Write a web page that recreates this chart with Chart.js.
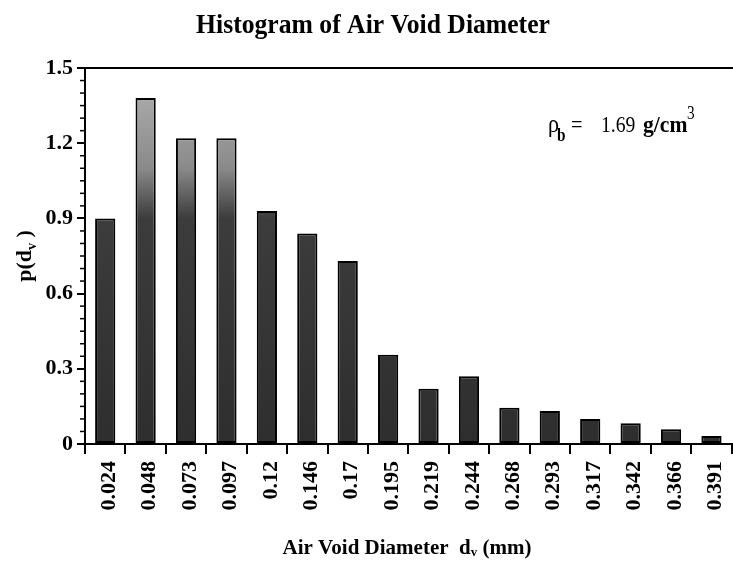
<!DOCTYPE html>
<html>
<head>
<meta charset="utf-8">
<script src="https://cdn.jsdelivr.net/npm/chart.js@4/dist/chart.umd.min.js"></script>
<style>
  html, body { margin: 0; padding: 0; background: #fff; overflow: hidden; }
</style>
</head>
<body>
<canvas id="chart" width="745" height="565"></canvas>
<script>
// air void diameter classes (mm) and the histogram values p(dv)
const diameters = ['0.024', '0.048', '0.073', '0.097', '0.12', '0.146', '0.17', '0.195',
  '0.219', '0.244', '0.268', '0.293', '0.317', '0.342', '0.366', '0.391'];
const pValues = [0.90, 1.38, 1.22, 1.22, 0.93, 0.84, 0.73, 0.356,
  0.22, 0.27, 0.145, 0.132, 0.10, 0.083, 0.059, 0.032];
const yTicks = [0, 0.3, 0.6, 0.9, 1.2, 1.5];

const serif = 'Liberation Serif';

const partsWidth = (ctx, parts) => {
  let w = 0;
  parts.forEach((p) => { ctx.font = p.font; w += ctx.measureText(p.t).width; });
  return w;
}

// draws a row of text pieces one after another (for sub/superscripts),
// sx squeezes the text sideways like the narrow typeface of the original
const drawParts = (ctx, x, y, parts, sx = 1, align = 'left') => {
  const w = partsWidth(ctx, parts);
  ctx.save();
  ctx.translate(align === 'center' ? x - w * sx / 2 : x, y);
  ctx.scale(sx, 1);
  let cx = 0;
  parts.forEach((p) => {
    ctx.font = p.font;
    ctx.fillText(p.t, cx, p.dy || 0);
    cx += ctx.measureText(p.t).width;
  });
  ctx.restore();
}

const extras = {
  id: 'extras',
  afterDraw(chart) {
    const ctx = chart.ctx;
    const area = chart.chartArea;
    const y = chart.scales.y;
    ctx.save();
    ctx.strokeStyle = '#000';
    ctx.fillStyle = '#000';

    // top frame line
    ctx.lineWidth = 2;
    ctx.beginPath();
    ctx.moveTo(area.left, area.top);
    ctx.lineTo(chart.width, area.top);
    ctx.stroke();

    // minor ticks on the y axis
    ctx.lineWidth = 1.5;
    for (let i = 1; i < 30; i++) {
      if (i % 6 === 0) continue;
      const py = y.getPixelForValue(i * 0.05);
      ctx.beginPath();
      ctx.moveTo(area.left - 5, py);
      ctx.lineTo(area.left, py);
      ctx.stroke();
    }

    ctx.textBaseline = 'alphabetic';
    ctx.textAlign = 'left';

    // title
    drawParts(ctx, 373, 33, [{ t: 'Histogram of Air Void Diameter', font: 'bold 27px ' + serif }], 0.95, 'center');

    // x axis title
    drawParts(ctx, 407, 554, [
      { t: 'Air Void Diameter  d', font: 'bold 21px ' + serif },
      { t: 'v', font: 'bold 13px ' + serif, dy: 2 },
      { t: ' (mm)', font: 'bold 21px ' + serif }
    ], 1, 'center');

    // y axis title
    ctx.save();
    ctx.translate(31, 256);
    ctx.rotate(-Math.PI / 2);
    drawParts(ctx, 0, 0, [
      { t: 'p(d', font: 'bold 22px ' + serif },
      { t: 'v', font: 'bold 14px ' + serif, dy: 5 },
      { t: ' )', font: 'bold 22px ' + serif }
    ], 1, 'center');
    ctx.restore();

    // bulk density note
    drawParts(ctx, 548, 132, [{ t: 'ρ', font: '26px ' + serif }], 0.85);
    drawParts(ctx, 557, 141, [{ t: 'b', font: 'bold 18px ' + serif }], 0.85);
    drawParts(ctx, 571, 132, [{ t: '=', font: '24px ' + serif }], 0.85);
    drawParts(ctx, 601, 132, [{ t: '1.69', font: '24px ' + serif }], 0.82);
    drawParts(ctx, 643, 132, [{ t: 'g/cm', font: 'bold 24px ' + serif }], 0.9);
    drawParts(ctx, 687, 119, [{ t: '3', font: '18px ' + serif }], 0.85);
    ctx.restore();
  }
};

const barFill = (context) => {
  const chart = context.chart;
  const area = chart.chartArea;
  if (!area) return '#333';
  const y = chart.scales.y;
  const g = chart.ctx.createLinearGradient(0, area.top, 0, area.bottom);
  const stop = (v) => (y.getPixelForValue(v) - area.top) / (area.bottom - area.top);
  g.addColorStop(0, '#b4b4b4');
  g.addColorStop(stop(1.1), '#8a8a8a');
  g.addColorStop(stop(0.9), '#3c3c3c');
  g.addColorStop(1, '#2e2e2e');
  return g;
}

new Chart(document.getElementById('chart'), {
  type: 'bar',
  data: {
    labels: diameters,
    datasets: [{
      data: pValues,
      backgroundColor: barFill,
      borderColor: '#000',
      borderWidth: 2,
      borderSkipped: false,
      barPercentage: 1,
      categoryPercentage: 0.5
    }]
  },
  options: {
    responsive: false,
    animation: false,
    layout: { padding: { top: 68, left: 0, right: 4, bottom: 0 } },
    plugins: {
      legend: { display: false },
      title: { display: false },
      tooltip: { enabled: false }
    },
    scales: {
      x: {
        afterFit: (s) => { s.height = 121; },
        border: { display: true, color: '#000', width: 2 },
        grid: { display: true, offset: true, drawOnChartArea: false, drawTicks: true, tickLength: 10, color: '#000', lineWidth: 2 },
        ticks: {
          minRotation: 90,
          maxRotation: 90,
          autoSkip: false,
          padding: 7,
          labelOffset: 4,
          color: '#000',
          font: { family: serif, weight: 'bold', size: 22 }
        }
      },
      y: {
        min: 0,
        max: 1.5,
        afterFit: (s) => { s.width = 85; },
        afterBuildTicks: (s) => { s.ticks = yTicks.map((v) => ({ value: v })); },
        border: { display: true, color: '#000', width: 2 },
        grid: { display: true, drawOnChartArea: false, drawTicks: true, tickLength: 8, color: '#000', lineWidth: 2 },
        ticks: {
          padding: 4,
          color: '#000',
          font: { family: serif, weight: 'bold', size: 22 },
          callback: (v) => String(+v.toFixed(1))
        }
      }
    }
  },
  plugins: [extras]
});
</script>
</body>
</html>
